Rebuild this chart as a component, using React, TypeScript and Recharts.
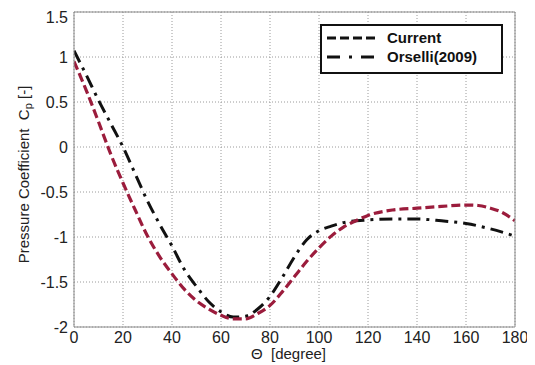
import React from "react";
import { LineChart, Line, XAxis, YAxis, CartesianGrid } from "recharts";

const currentTheta = [0, 5, 10, 15, 20, 25, 30, 35, 40, 45, 50, 55, 60, 65, 70, 75, 80, 85, 90, 95, 100, 105, 110, 115, 120, 130, 140, 150, 160, 165, 170, 175, 180];
const currentCp = [0.95, 0.63, 0.28, -0.08, -0.4, -0.7, -0.99, -1.22, -1.41, -1.58, -1.71, -1.8, -1.87, -1.91, -1.91, -1.85, -1.76, -1.61, -1.44, -1.27, -1.12, -0.99, -0.89, -0.82, -0.76, -0.7, -0.68, -0.66, -0.645, -0.65, -0.68, -0.73, -0.82];

const orselliTheta = [0, 5, 10, 15, 20, 25, 30, 35, 40, 45, 50, 55, 60, 65, 70, 75, 80, 85, 90, 95, 100, 105, 110, 120, 130, 140, 150, 160, 170, 180];
const orselliCp = [1.07, 0.8, 0.52, 0.26, 0.0, -0.3, -0.6, -0.86, -1.1, -1.36, -1.55, -1.72, -1.83, -1.89, -1.88, -1.8, -1.66, -1.45, -1.22, -1.03, -0.93, -0.88, -0.84, -0.81, -0.8, -0.8, -0.82, -0.85, -0.91, -0.99];

const xTicks = [0, 20, 40, 60, 80, 100, 120, 140, 160, 180];
const yTicks = [-2, -1.5, -1, -0.5, 0, 0.5, 1, 1.5];

const seriesNames = ["Current", "Orselli(2009)"];

const currentData = currentTheta.map((t, i) => ({ theta: t, cp: currentCp[i] }));
const orselliData = orselliTheta.map((t, i) => ({ theta: t, cp: orselliCp[i] }));

const FONT = "Arial, 'Liberation Sans', Helvetica, sans-serif";
const FRAME = "#8a8a8a";
const RED = "#9b1c3c";

const YLabel = (props: any) => {
  const vb = props.viewBox || { x: 0, y: 0, width: 0, height: 0 };
  const cx = vb.x - 1;
  const cy = vb.y + vb.height / 2 + 5;
  return (
    <text
      x={cx}
      y={cy}
      transform={`rotate(-90, ${cx}, ${cy})`}
      textAnchor="middle"
      dominantBaseline="central"
      fontSize={15}
      fontFamily={FONT}
      fill="#222"
      style={{ whiteSpace: "pre" }}
    >
      {"Pressure Coefficient  C"}
      <tspan dy={5} fontSize={11}>p</tspan>
      <tspan dy={-5}>{" [-]"}</tspan>
    </text>
  );
};

const XLabel = (props: any) => {
  const vb = props.viewBox || { x: 0, y: 0, width: 0, height: 0 };
  const cx = vb.x + vb.width / 2 - 6;
  return (
    <text
      x={cx}
      y={vb.y + 32}
      textAnchor="middle"
      fontSize={15}
      fontFamily={FONT}
      fill="#222"
      style={{ whiteSpace: "pre" }}
    >
      {"\u0398  [degree]"}
    </text>
  );
};

const LegendBox = () => (
  <div
    style={{
      position: "absolute",
      left: 312,
      top: 16,
      border: "2px solid #111",
      background: "#fff",
      width: 179,
      height: 44,
      boxSizing: "content-box",
      fontFamily: FONT,
      fontWeight: "bold",
      fontSize: 15,
      color: "#111",
      paddingTop: 2,
    }}
  >
    <div style={{ display: "flex", alignItems: "center", height: 19 }}>
      <svg width={60} height={10} style={{ marginLeft: 5 }}>
        <line x1={0} y1={5} x2={48} y2={5} stroke="#111" strokeWidth={3} strokeDasharray="9 4" />
      </svg>
      <span>{seriesNames[0]}</span>
    </div>
    <div style={{ display: "flex", alignItems: "center", height: 19 }}>
      <svg width={60} height={10} style={{ marginLeft: 5 }}>
        <line x1={0} y1={5} x2={48} y2={5} stroke="#111" strokeWidth={3} strokeDasharray="13 9 3 9" />
      </svg>
      <span>{seriesNames[1]}</span>
    </div>
  </div>
);

export default function App() {
  return (
    <div style={{ width: 527, height: 357, background: "#fff", position: "relative" }}>
      <LineChart width={527} height={357} margin={{ top: 3, right: 19, bottom: 0, left: 16 }}>
        <CartesianGrid
          stroke="#9a9a9a"
          strokeDasharray="1 2"
          verticalValues={xTicks}
          horizontalValues={yTicks}
          xAxisId="bottom"
          yAxisId="left"
        />
        <XAxis
          xAxisId="bottom"
          dataKey="theta"
          type="number"
          domain={[0, 180]}
          ticks={xTicks}
          allowDataOverflow
          height={38}
          tickLine={false}
          tickSize={3}
          tickMargin={2}
          axisLine={{ stroke: FRAME }}
          tick={{ fontSize: 16, fill: "#222", fontFamily: FONT }}
          label={{ content: <XLabel /> } as any}
        />
        <XAxis
          xAxisId="top"
          orientation="top"
          dataKey="theta"
          type="number"
          domain={[0, 180]}
          ticks={xTicks}
          height={1}
          tick={false}
          tickLine={false}
          axisLine={{ stroke: FRAME }}
        />
        <YAxis
          yAxisId="left"
          type="number"
          domain={[-2, 1.5]}
          ticks={yTicks}
          allowDataOverflow
          width={50}
          tickLine={false}
          tickSize={4}
          tickMargin={2}
          axisLine={{ stroke: FRAME }}
          tick={{ fontSize: 16, fill: "#222", fontFamily: FONT }}
          label={{ content: <YLabel /> } as any}
        />
        <YAxis
          yAxisId="right"
          orientation="right"
          type="number"
          domain={[-2, 1.5]}
          ticks={yTicks}
          width={1}
          tick={false}
          tickLine={false}
          axisLine={{ stroke: FRAME }}
        />
        <Line
          data={orselliData}
          xAxisId="bottom"
          yAxisId="left"
          dataKey="cp"
          name={seriesNames[1]}
          type="monotone"
          stroke="#111"
          strokeWidth={3}
          strokeDasharray="13 6 3 6"
          dot={false}
          activeDot={false}
          isAnimationActive={false}
        />
        <Line
          data={currentData}
          xAxisId="bottom"
          yAxisId="left"
          dataKey="cp"
          name={seriesNames[0]}
          type="monotone"
          stroke={RED}
          strokeWidth={3.2}
          strokeDasharray="9 4"
          dot={false}
          activeDot={false}
          isAnimationActive={false}
        />
      </LineChart>
      <LegendBox />
    </div>
  );
}
